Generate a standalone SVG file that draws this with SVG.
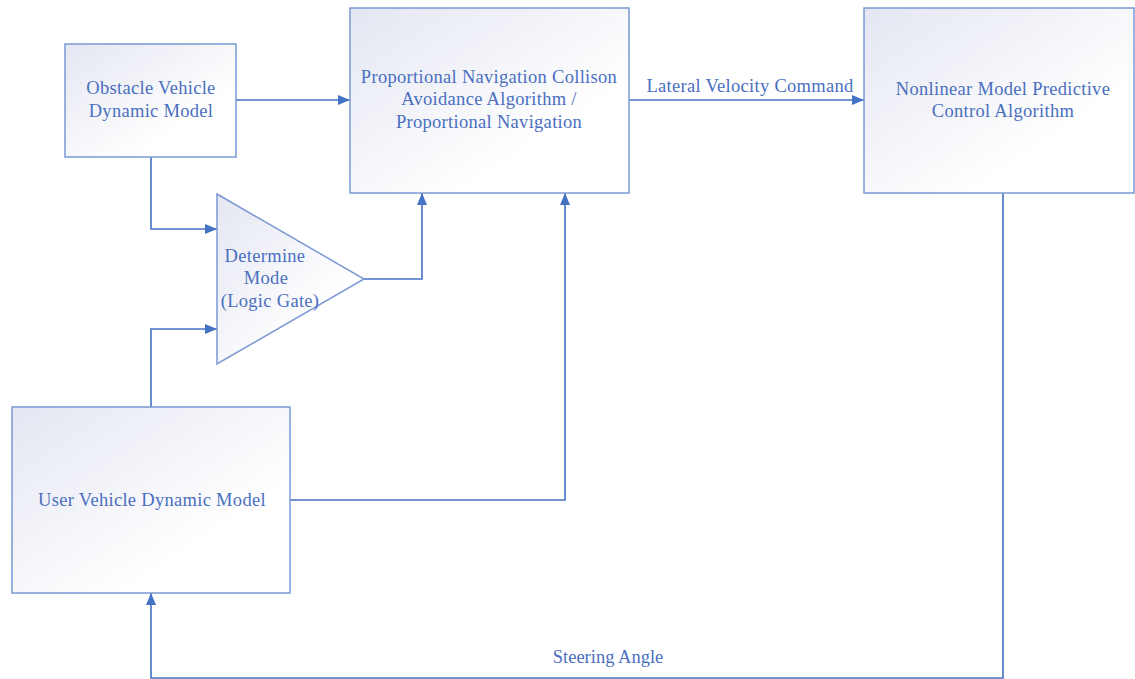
<svg xmlns="http://www.w3.org/2000/svg" width="1135" height="679" viewBox="0 0 1135 679">
<style>
.box{stroke:#7b98d4;stroke-width:1.5;fill:url(#g)}
.t{font-family:"Liberation Serif","Times New Roman",serif;font-size:18.5px;letter-spacing:0.3px;fill:#4a6fc0;text-anchor:middle}
.c{fill:none;stroke:#4472c4;stroke-width:1.6}
</style>
<defs>
<linearGradient id="g" x1="0" y1="0" x2="1" y2="1">
<stop offset="0" stop-color="#e4e6f2"/>
<stop offset="0.7" stop-color="#ffffff"/>
</linearGradient>
<marker id="a" viewBox="0 0 12 10" refX="12" refY="5" markerWidth="12" markerHeight="10" markerUnits="userSpaceOnUse" orient="auto">
<path d="M0,0 L12,5 L0,10 z" fill="#4472c4"/>
</marker>
</defs>
<rect width="1135" height="679" fill="#ffffff"/>
<g id="connectors">
<path class="c" d="M236,100 H350" marker-end="url(#a)"/>
<path class="c" d="M151,157 V229 H217" marker-end="url(#a)"/>
<path class="c" d="M151,407 V329 H217" marker-end="url(#a)"/>
<path class="c" d="M364,279 H422 V193" marker-end="url(#a)"/>
<path class="c" d="M290,500 H565 V193" marker-end="url(#a)"/>
<path class="c" d="M629,100 H864" marker-end="url(#a)"/>
<path class="c" d="M1003,193 V678 H151 V593" marker-end="url(#a)"/>
<text class="t" x="750" y="92">Lateral Velocity Command</text>
<text class="t" x="608" y="663" style="letter-spacing:0">Steering Angle</text>
</g>
<g id="obstacle">
<rect class="box" x="65" y="44" width="171" height="113"/>
<text class="t" x="151" y="94">Obstacle Vehicle</text>
<text class="t" x="151" y="117">Dynamic Model</text>
</g>
<g id="pn">
<rect class="box" x="350" y="8" width="279" height="185"/>
<text class="t" x="489" y="83">Proportional Navigation Collison</text>
<text class="t" x="489" y="105">Avoidance Algorithm /</text>
<text class="t" x="489" y="128">Proportional Navigation</text>
</g>
<g id="nmpc">
<rect class="box" x="864" y="8" width="270" height="185"/>
<text class="t" x="1003" y="95">Nonlinear Model Predictive</text>
<text class="t" x="1003" y="117">Control Algorithm</text>
</g>
<g id="mode">
<path class="box" d="M217,194 L364,279 L217,364 Z" stroke="#4472c4"/>
<text class="t" x="265" y="262">Determine</text>
<text class="t" x="266" y="284">Mode</text>
<text class="t" x="270" y="307">(Logic Gate)</text>
</g>
<g id="user">
<rect class="box" x="12" y="407" width="278" height="186"/>
<text class="t" x="152" y="506">User Vehicle Dynamic Model</text>
</g>
</svg>
